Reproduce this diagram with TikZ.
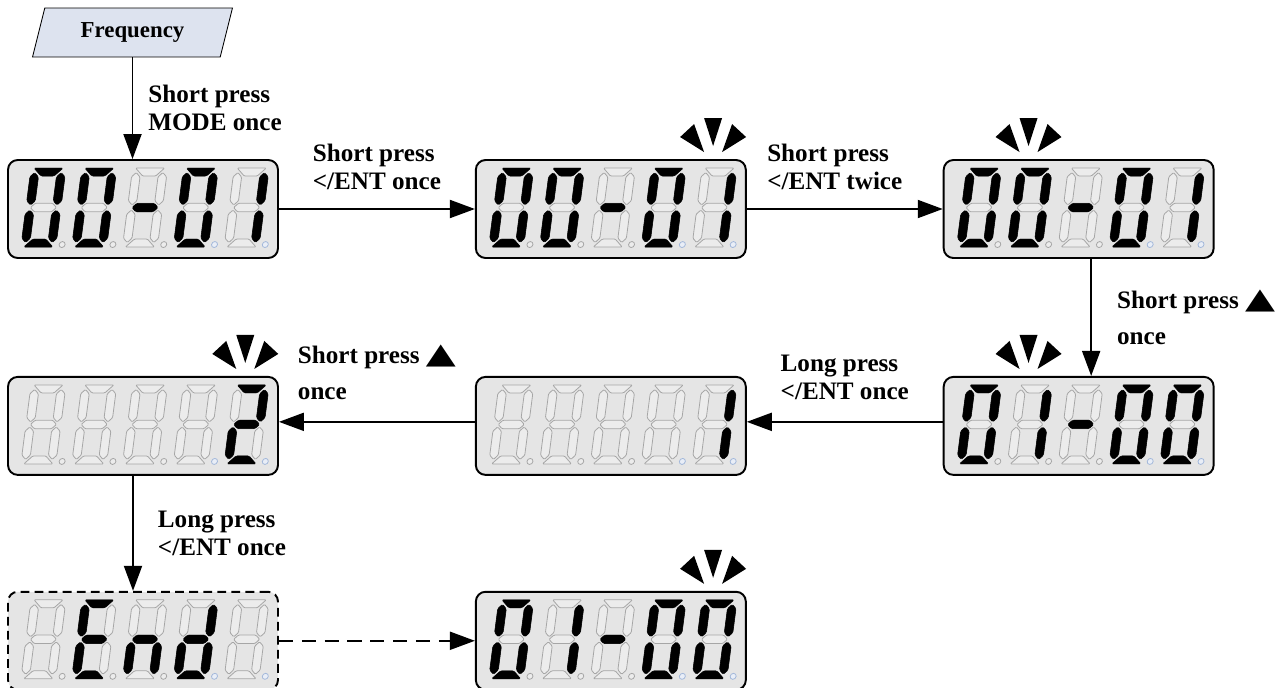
\documentclass[tikz,border=0pt]{standalone}
\usepackage{fontspec}
\usepackage{graphicx}
\setmainfont{Liberation Serif}
\newfontfamily\trifont{DejaVu Sans}
\usetikzlibrary{arrows.meta,positioning,shapes.geometric}

\definecolor{lcdbg}{HTML}{E5E5E5}
\definecolor{segfill}{HTML}{ECECEC}
\definecolor{segline}{HTML}{A6A6A6}
\definecolor{dpline}{HTML}{A3B8DA}
\definecolor{dpfill}{HTML}{E9EEF7}
\definecolor{freqblue}{HTML}{DDE3EF}

\newcommand{\segpathA}{(3,0) -- (32,0) -- (24,8) -- (11,8) -- cycle}
\newcommand{\segpathB}{(30.75,37) -- (26.5,32.75) -- (26.5,9) -- (30.75,4.5) -- (35,8.75) -- (35,32.75) -- cycle}
\newcommand{\segpathC}{(30.75,42) -- (26.5,46.25) -- (26.5,70) -- (30.75,74.5) -- (35,70.25) -- (35,46.25) -- cycle}
\newcommand{\segpathD}{(3,79) -- (32,79) -- (24,71) -- (11,71) -- cycle}
\newcommand{\segpathE}{(4.25,42) -- (8.5,46.25) -- (8.5,70) -- (4.25,74.5) -- (0,70.25) -- (0,46.25) -- cycle}
\newcommand{\segpathF}{(4.25,37) -- (8.5,32.75) -- (8.5,9) -- (4.25,4.5) -- (0,8.75) -- (0,32.75) -- cycle}
\newcommand{\segpathG}{(4.5,39.5) -- (8.75,35.25) -- (26.25,35.25) -- (30.5,39.5) -- (26.25,43.75) -- (8.75,43.75) -- cycle}
\newcommand{\segpathX}{(0,0)}

\pgfkeys{/lcd/.cd,
  0/.initial={A,B,C,D,E,F}, 1/.initial={B,C}, 2/.initial={A,B,G,E,D},
  -/.initial={G}, E/.initial={A,F,G,E,D}, n/.initial={C,E,G},
  d/.initial={B,C,D,E,G}, x/.initial={X}}

\newcommand{\lcdshow}[2]{%
  \foreach \g [count=\k from 0] in {#2} {%
    \begin{scope}[shift={(#1.north west)}, shift={(24+50.8*\k,9)}, xslant=0.13]
      \foreach \s in {A,B,C,D,E,F,G} {\draw[segoff] \csname segpath\s\endcsname;}
      \pgfkeysgetvalue{/lcd/\g}\seglist
      \foreach \s in \seglist {\fill[segon] \csname segpath\s\endcsname;}
      \ifnum\k>2 \draw[dpon] (41,76.5) circle (3); \else \draw[dpoff] (41,76.5) circle (3); \fi
    \end{scope}}}

\newcommand{\uptri}{{\trifont\scalebox{1.55}[1.15]{▲}}}

\tikzset{blinker/.pic={
  \fill (-9,-41) -- (9,-41) -- (0,-13) -- cycle;
  \fill (-33,-22) -- (-19,-35) -- (-9,-7) -- cycle;
  \fill (33,-22) -- (19,-35) -- (9,-7) -- cycle;}}

\begin{document}
\begin{tikzpicture}[x=0.02cm, y=-0.02cm, node distance=3.92cm,
    >={Triangle[length=0.5cm,width=0.36cm]},
    display/.style={draw, line width=1.1pt, rounded corners=5.5pt, fill=lcdbg,
      minimum width=5.4cm, minimum height=1.96cm, inner sep=0pt},
    flow/.style={->, line width=1.1pt},
    lbl/.style={font={\bfseries\fontsize{14.3pt}{16pt}\selectfont}, align=left, inner sep=0pt},
    freqbox/.style={trapezium, trapezium left angle=70, trapezium right angle=110,
      trapezium stretches=true, draw, line width=0.5pt, fill=freqblue,
      minimum width=4.02cm, minimum height=0.98cm,
      inner sep=0pt, font={\bfseries\fontsize{13pt}{15pt}\selectfont}},
    segoff/.style={draw=segline, fill=segfill, line width=0.45pt, rounded corners=0.6pt},
    segon/.style={draw=black, fill=black, line width=0.3pt, rounded corners=0.8pt},
    dpoff/.style={draw=segline, fill=segfill, line width=0.45pt},
    dpon/.style={draw=dpline, fill=dpfill, line width=0.45pt}]
  \useasboundingbox (0,0) rectangle (1279,687);

  \node[freqbox] (freq) at (132.5,32.5) {Frequency};
  \node[display] (d1) at (143,209) {};
  \node[display] (d2) [right=3.92cm of d1] {};
  \node[display] (d3) [right=3.92cm of d2] {};
  \node[display] (d4) [below=2.34cm of d3] {};
  \node[display] (d5) [left=3.92cm of d4] {};
  \node[display] (d6) [left=3.92cm of d5] {};
  \node[display, dash pattern=on 5pt off 3pt] (d7) [below=2.3cm of d6] {};
  \node[display] (d8) [right=3.92cm of d7] {};

  \lcdshow{d1}{0,0,-,0,1}
  \lcdshow{d2}{0,0,-,0,1}
  \lcdshow{d3}{0,0,-,0,1}
  \lcdshow{d4}{0,1,-,0,0}
  \lcdshow{d5}{x,x,x,x,1}
  \lcdshow{d6}{x,x,x,x,2}
  \lcdshow{d7}{x,E,n,d,x}
  \lcdshow{d8}{0,1,-,0,0}

  \path (d2.north west) ++(238.2,0) pic {blinker};
  \path (d3.north west) ++(85.8,0) pic {blinker};
  \path (d4.north west) ++(85.8,0) pic {blinker};
  \path (d6.north west) ++(238.2,0) pic {blinker};
  \path (d8.north west) ++(238.2,0) pic {blinker};

  \draw[flow] (freq.south) -- node[lbl, right, xshift=0.3cm] (t1) {Short press\\MODE once} (freq.south |- d1.north);
  \draw[flow] (d1) -- node[lbl, above=0.36cm] (t2) {Short press\\</ENT once} (d2);
  \draw[flow] (d2) -- node[lbl, above=0.36cm, xshift=-0.2cm] (t3) {Short press\\</ENT twice} (d3);
  \draw[flow] ([xshift=0.25cm]d3.south) -- node[lbl, right, xshift=0.5cm] (t4) {Short press \uptri\\[4.5pt]once} ([xshift=0.25cm]d4.north);
  \draw[flow] ([yshift=2.3pt]d4.west) -- node[lbl, above=0.42cm] (t5) {Long press\\</ENT once} ([yshift=2.3pt]d5.east);
  \draw[flow] ([yshift=2.3pt]d5.west) -- node[lbl, above=0.42cm] (t6) {Short press \uptri\\[4.5pt]once} ([yshift=2.3pt]d6.east);
  \draw[flow] ([xshift=-0.2cm]d6.south) -- node[lbl, right, xshift=0.48cm] (t7) {Long press\\</ENT once} ([xshift=-0.2cm]d7.north);
  \draw[flow, dash pattern=on 8pt off 5pt] (d7) -- (d8);
\end{tikzpicture}
\end{document}
